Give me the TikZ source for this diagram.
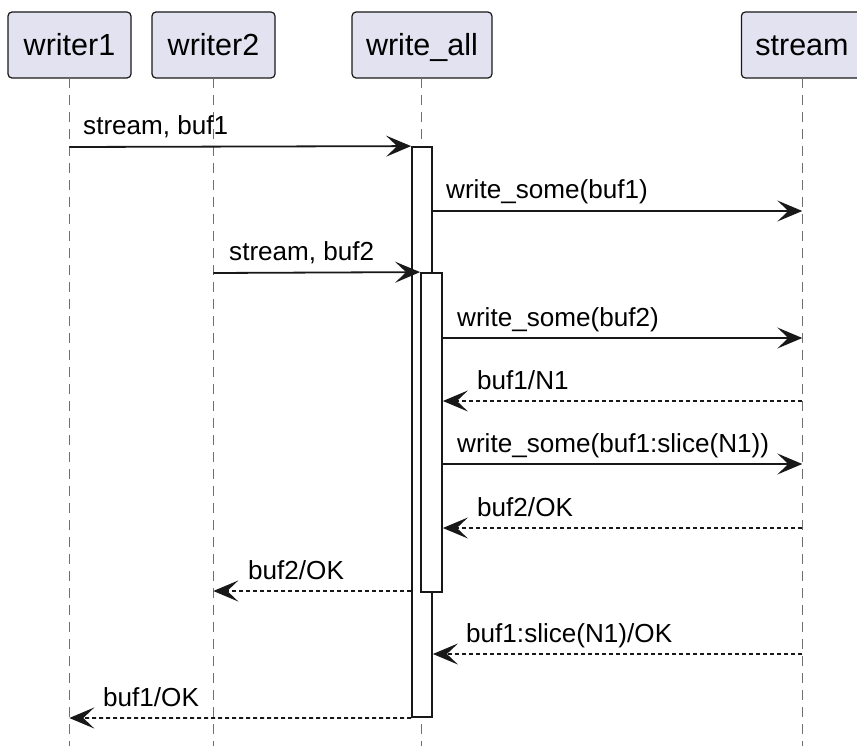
\documentclass[tikz,border=0pt]{standalone}
\usepackage{fontspec}
\setmainfont{Liberation Sans}
\usetikzlibrary{arrows.meta}
\definecolor{partfill}{HTML}{E2E2F0}
\definecolor{ink}{HTML}{181818}
\definecolor{life}{HTML}{707070}
\begin{document}
\begin{tikzpicture}[x=1pt,y=-1pt,
 part/.style={draw=ink, line width=1.2pt, fill=partfill, rounded corners=4pt, minimum height=66pt, inner xsep=14pt, inner ysep=0pt, text height=22pt, text depth=0pt, font=\fontsize{30.5}{34}\selectfont, text=black},
 lifeline/.style={draw=life, line width=1.2pt, dash pattern=on 10pt off 7pt},
 act/.style={draw=ink, line width=1.8pt, fill=white, inner sep=0pt},
 msg/.style={draw=ink, line width=1.8pt, -{Stealth[length=25pt,width=21pt,inset=11pt]}},
 ret/.style={msg, dash pattern=on 4pt off 3pt},
 lbl/.style={anchor=base west, inner sep=0pt, font=\fontsize{26.1}{30}\selectfont, text=black}]
\useasboundingbox (0,0) rectangle (857,746);
% participants
\node[part, minimum width=123pt] (w1) at (69.5,45) {writer1};
\node[part, minimum width=123pt] (w2) at (213.5,45) {writer2};
\node[part] (wa) at (422,45) {write\_all};
\node[part] (st) at (802,45) {stream};
% lifeline ends
\coordinate (w1b) at (69.3,746);
\coordinate (w2b) at (213.3,746);
\coordinate (wab) at (421.7,746);
\coordinate (stb) at (802.3,746);
\coordinate (w1t) at (69.3,78);
\coordinate (w2t) at (213.3,78);
\coordinate (wat) at (421.7,78);
\coordinate (stt) at (802.3,78);
\draw[lifeline] (w1t) -- (w1b);
\draw[lifeline] (w2t) -- (w2b);
\draw[lifeline] (wat) -- (wab);
\draw[lifeline] (stt) -- (stb);
% activations
\node[act, minimum width=20pt, minimum height=570pt] (a1) at (422,432) {};
\node[act, minimum width=21pt, minimum height=319pt] (a2) at (431.5,432.5) {};
% message endpoints
\coordinate (m1s) at (69.3,147);
\coordinate (m2e) at (802.3,211);
\coordinate (m3s) at (213.3,273);
\coordinate (m4e) at (802.3,338);
\coordinate (m5s) at (802.3,401);
\coordinate (m6e) at (802.3,464);
\coordinate (m7s) at (802.3,528);
\coordinate (m8e) at (213.3,591);
\coordinate (m9s) at (802.3,654);
\coordinate (m10e) at (69.3,718);
% messages
\draw[msg] (m1s) -- (a1.north west);
\node[lbl] (l1) at (83,135) {stream, buf1};
\draw[msg] (a1.east |- m2e) -- (m2e);
\node[lbl] (l2) at (446,199) {write\_some(buf1)};
\draw[msg] (m3s) -- (a2.north west);
\node[lbl] (l3) at (229,261) {stream, buf2};
\draw[msg] (a2.east |- m4e) -- (m4e);
\node[lbl] (l4) at (457,326) {write\_some(buf2)};
\draw[ret] (m5s) -- (a2.east |- m5s);
\node[lbl] (l5) at (477,389) {buf1/N1};
\draw[msg] (a2.east |- m6e) -- (m6e);
\node[lbl] (l6) at (457,452) {write\_some(buf1:slice(N1))};
\draw[ret] (m7s) -- (a2.east |- m7s);
\node[lbl] (l7) at (477,516) {buf2/OK};
\draw[ret] (a1.west |- m8e) -- (m8e);
\node[lbl] (l8) at (248,579) {buf2/OK};
\draw[ret] (m9s) -- (a1.east |- m9s);
\node[lbl] (l9) at (466,642) {buf1:slice(N1)/OK};
\draw[ret] (a1.south west) -- (m10e);
\node[lbl] (l10) at (103,706) {buf1/OK};
\end{tikzpicture}
\end{document}
